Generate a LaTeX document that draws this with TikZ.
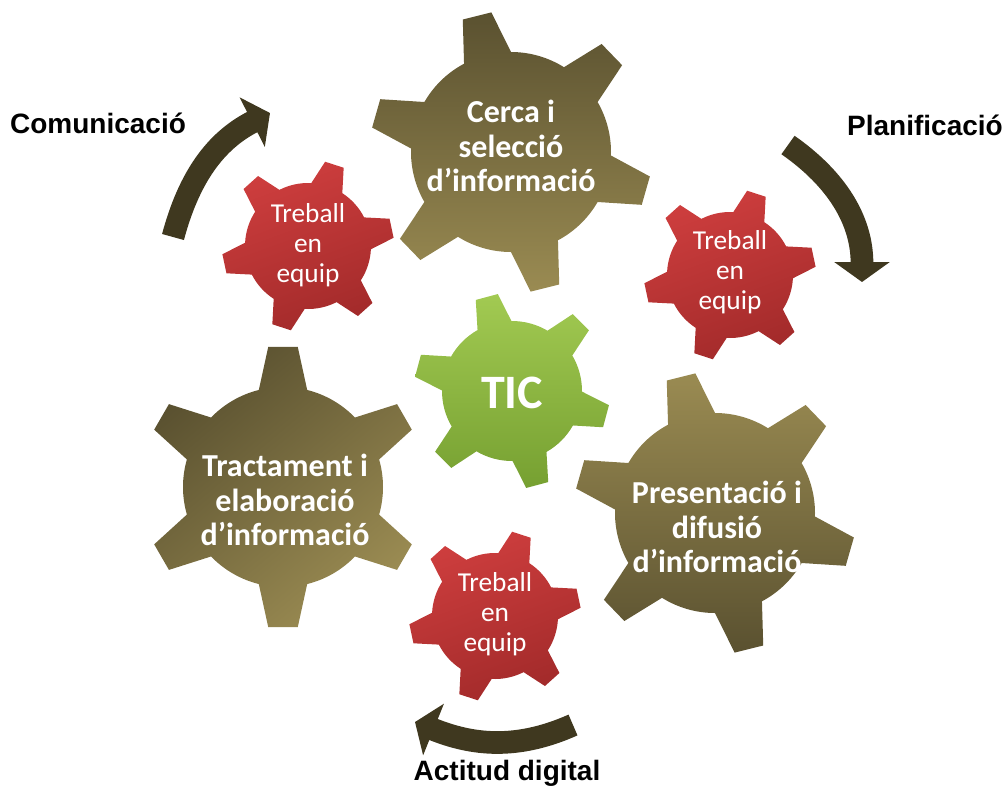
\documentclass[tikz,border=0pt]{standalone}
\usepackage{fontspec}
\setmainfont{Carlito}
\newfontfamily\labelfont{Liberation Sans}
\usetikzlibrary{arrows.meta}

\definecolor{olivedark}{HTML}{5A5130}
\definecolor{olivelight}{HTML}{9A8B52}
\definecolor{redtop}{HTML}{CE3E3E}
\definecolor{redbottom}{HTML}{A22A2A}
\definecolor{greentop}{HTML}{A2CA52}
\definecolor{greenbottom}{HTML}{76A031}
\definecolor{arrowolive}{HTML}{3F381F}

% centre, body radius, tip radius, base half-angle, tip half-angle, offset
\newcommand{\gearpath}[6]{([shift={#1}]{#6-#4}:#2)
  \foreach \tooth in {0,60,...,300}{
    -- ([shift={#1}]{\tooth+#6-#4}:#2) -- ([shift={#1}]{\tooth+#6-#5}:#3)
    -- ([shift={#1}]{\tooth+#6+#5}:#3) -- ([shift={#1}]{\tooth+#6+#4}:#2)
    arc[start angle=\tooth+#6+#4, end angle=\tooth+#6+60-#4, radius=#2]
  } -- cycle}

\tikzset{
  geartext/.style={text=white, font=\bfseries\fontsize{24}{26}\selectfont, align=center},
  teamtext/.style={text=white, font=\fontsize{20.5}{22.5}\selectfont, align=center},
  steplabel/.style={font=\labelfont\bfseries\fontsize{21}{24}\selectfont},
  cyclearrow/.style={draw=arrowolive, line width=17pt, -{Triangle[width=41pt,length=15pt]}},
}

\begin{document}
\begin{tikzpicture}[x=0.75pt,y=0.75pt]
  \useasboundingbox (0,0) rectangle (1008,-790);
  \coordinate (G1) at (511,-152);
  \coordinate (G2) at (283,-487);
  \coordinate (G3) at (715,-513);
  \coordinate (R1) at (308,-246);
  \coordinate (R2) at (730,-275);
  \coordinate (R3) at (495,-616);
  \coordinate (T) at (512,-391);
  % big gears
  \shade[top color=olivedark, bottom color=olivelight] \gearpath{(G1)}{100}{141}{14}{6}{44};
  \shade[top color=olivedark, bottom color=olivelight, shading angle=40] \gearpath{(G2)}{100}{141}{14}{6}{30};
  \shade[top color=olivelight, bottom color=olivedark] \gearpath{(G3)}{100}{141}{14}{6}{44};
  % small gears
  \shade[top color=redtop, bottom color=redbottom, shading angle=20] \gearpath{(R1)}{63}{86}{15}{6.5}{12};
  \shade[top color=redtop, bottom color=redbottom, shading angle=20] \gearpath{(R2)}{63}{86}{15}{6.5}{12};
  \shade[top color=redtop, bottom color=redbottom, shading angle=20] \gearpath{(R3)}{63}{86}{15}{6.5}{12};
  \shade[top color=greentop, bottom color=greenbottom] \gearpath{(T)}{70}{98}{14.5}{6.7}{45};
  % texts
  \node[geartext] (cerca) at (511,-146) {Cerca i\\selecció\\d’informació};
  \node[geartext] (tractament) at (285,-500) {Tractament i\\elaboració\\d’informació};
  \node[geartext] (presentacio) at (717,-527) {Presentació i\\difusió\\d’informació};
  \node[text=white, font=\bfseries\fontsize{36}{40}\selectfont] (tic) at (512,-393) {TIC};
  \node[teamtext] (equip1) at (308,-245) {Treball\\en\\equip};
  \node[teamtext] (equip2) at (730,-272) {Treball\\en\\equip};
  \node[teamtext] (equip3) at (495,-614) {Treball\\en\\equip};
  \node[steplabel] (comunicacio) at (98,-123) {Comunicació};
  \node[steplabel] (planificacio) at (925,-125) {Planificació};
  \node[steplabel] (actitud) at (507,-773) {Actitud digital};
  % cycle arrows
  \coordinate (A1s) at (173,-237); \coordinate (A1e) at (270,-113);
  \coordinate (A2s) at (788,-145); \coordinate (A2e) at (862,-282);
  \coordinate (A3s) at (573,-725); \coordinate (A3e) at (415,-722);
  \draw[cyclearrow] (A1s) to[out=75, in=207] (A1e);
  \draw[cyclearrow] (A2s) to[out=-35, in=90] (A2e);
  \draw[cyclearrow] (A3s) to[out=204, in=-22] (A3e);
\end{tikzpicture}
\end{document}
